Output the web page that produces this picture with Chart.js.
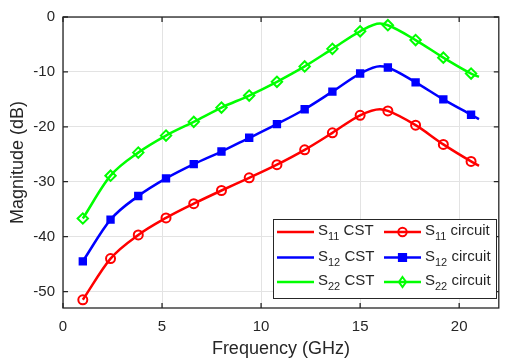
<!DOCTYPE html>
<html><head><meta charset="utf-8">
<script src="https://cdn.jsdelivr.net/npm/chart.js@4/dist/chart.umd.min.js"></script>
<style>html,body{margin:0;padding:0;background:#fff}#wrap{width:506px;height:364px}</style>
</head><body><div id="wrap"><canvas id="c" width="506" height="364"></canvas></div>
<script>
const freq = [1, 2.4, 3.8, 5.2, 6.6, 8.0, 9.4, 10.8, 12.2, 13.6, 15.0, 16.4, 17.8, 19.2, 20.6];
const s11Circuit = [-51.5, -44.0, -39.7, -36.6, -34.0, -31.6, -29.3, -26.9, -24.2, -21.1, -17.9, -17.1, -19.7, -23.2, -26.3];
const s12Circuit = [-44.5, -36.9, -32.6, -29.4, -26.8, -24.5, -22.0, -19.5, -16.8, -13.6, -10.3, -9.2, -11.9, -15.0, -17.8];
const s22Circuit = [-36.7, -28.9, -24.7, -21.6, -19.1, -16.5, -14.3, -11.8, -9.0, -5.8, -2.6, -1.5, -4.2, -7.4, -10.3];

const freqCst = [1, 2.4, 3.8, 5.2, 6.6, 8.0, 9.4, 10.8, 12.2, 13.6, 15.0, 16.0, 16.4, 17.8, 19.2, 20.6, 21.0];
const s11Cst = [-51.5, -44.0, -39.7, -36.6, -34.0, -31.6, -29.3, -26.9, -24.2, -21.1, -17.9, -16.8, -17.1, -19.7, -23.2, -26.3, -27.1];
const s12Cst = [-44.5, -36.9, -32.6, -29.4, -26.8, -24.5, -22.0, -19.5, -16.8, -13.6, -10.3, -8.95, -9.2, -11.9, -15.0, -17.8, -18.6];
const s22Cst = [-36.7, -28.9, -24.7, -21.6, -19.1, -16.5, -14.3, -11.8, -9.0, -5.8, -2.6, -1.2, -1.5, -4.2, -7.4, -10.3, -10.9];

const xTicks = [0, 5, 10, 15, 20];
const yTicks = [0, -10, -20, -30, -40, -50];

const RED = '#ff0000', BLUE = '#0000ff', GREEN = '#00ff00';
const FONT = "'Liberation Sans', Arial, sans-serif";

function pts(xs, ys) { return xs.map((x, i) => ({x: x, y: ys[i]})); }

function cst(label, ys, color) {
  return {label: label, data: pts(freqCst, ys), borderColor: color, backgroundColor: color,
    borderWidth: 2.5, pointRadius: 0, cubicInterpolationMode: 'monotone', showLine: true, order: 2};
}
function circ(label, ys, color, style, fill) {
  return {label: label, data: pts(freq, ys), borderColor: color, backgroundColor: fill,
    borderWidth: 2, pointRadius: style === 'rectRot' ? 5.2 : 4.5, pointStyle: style, pointBorderWidth: 2,
    showLine: false, order: 1};
}

const datasets = [
  cst('S11 CST', s11Cst, RED),
  cst('S12 CST', s12Cst, BLUE),
  cst('S22 CST', s22Cst, GREEN),
  circ('S11 circuit', s11Circuit, RED, 'circle', 'rgba(0,0,0,0)'),
  circ('S12 circuit', s12Circuit, BLUE, 'rect', BLUE),
  circ('S22 circuit', s22Circuit, GREEN, 'rectRot', 'rgba(0,0,0,0)')
];

function drawMarker(ctx, style, x, y, color, fill) {
  ctx.save();
  ctx.strokeStyle = color; ctx.fillStyle = fill; ctx.lineWidth = 2;
  ctx.beginPath();
  if (style === 'circle') { ctx.arc(x, y, 4.2, 0, Math.PI * 2); }
  else if (style === 'rect') { ctx.rect(x - 3.6, y - 3.6, 7.2, 7.2); }
  else { ctx.moveTo(x, y - 5); ctx.lineTo(x + 3.6, y); ctx.lineTo(x, y + 5); ctx.lineTo(x - 3.6, y); ctx.closePath(); }
  ctx.fill(); ctx.stroke();
  ctx.restore();
}

const framePlugin = {
  id: 'frame',
  afterDraw(chart) {
    const {ctx, chartArea: a, scales: {x, y}} = chart;
    ctx.save();
    ctx.strokeStyle = '#262626'; ctx.lineWidth = 1.3;
    ctx.strokeRect(a.left, a.top, a.right - a.left, a.bottom - a.top);
    ctx.beginPath();
    xTicks.forEach(v => { const px = x.getPixelForValue(v);
      ctx.moveTo(px, a.bottom); ctx.lineTo(px, a.bottom - 5);
      ctx.moveTo(px, a.top); ctx.lineTo(px, a.top + 5); });
    yTicks.forEach(v => { const py = y.getPixelForValue(v);
      ctx.moveTo(a.left, py); ctx.lineTo(a.left + 5, py);
      ctx.moveTo(a.right, py); ctx.lineTo(a.right - 5, py); });
    ctx.stroke();

    // legend
    const bx = 273, by = 219, bw = 223, bh = 79;
    ctx.fillStyle = '#fff'; ctx.fillRect(bx, by, bw, bh);
    ctx.strokeStyle = '#262626'; ctx.lineWidth = 1; ctx.strokeRect(bx + 0.5, by + 0.5, bw, bh);
    const rows = [
      ['11', RED, 'circle', 'rgba(0,0,0,0)'],
      ['12', BLUE, 'rect', BLUE],
      ['22', GREEN, 'rectRot', 'rgba(0,0,0,0)']
    ];
    const rowY = [232, 257.5, 282];
    rows.forEach((r, i) => {
      const yy = rowY[i];
      ctx.lineWidth = 2.5; ctx.strokeStyle = r[1];
      ctx.beginPath(); ctx.moveTo(277, yy); ctx.lineTo(314, yy); ctx.stroke();
      ctx.beginPath(); ctx.moveTo(384, yy); ctx.lineTo(421, yy); ctx.stroke();
      drawMarker(ctx, r[2], 402.5, yy, r[1], r[3]);
      ctx.fillStyle = '#262626'; ctx.textBaseline = 'middle'; ctx.textAlign = 'left';
      [[318, ' CST'], [425, ' circuit']].forEach(([tx, suffix]) => {
        ctx.font = '15px ' + FONT;
        ctx.fillText('S', tx, yy - 1);
        let w = ctx.measureText('S').width;
        ctx.font = '11px ' + FONT;
        ctx.fillText(r[0], tx + w, yy + 5);
        w += ctx.measureText(r[0]).width;
        ctx.font = '15px ' + FONT;
        ctx.fillText(suffix, tx + w, yy - 1);
      });
    });
    ctx.restore();
  }
};

new Chart(document.getElementById('c'), {
  type: 'line',
  data: {datasets: datasets},
  options: {
    responsive: false, animation: false, devicePixelRatio: 1,
    layout: {padding: {top: 7, right: 1, left: 0, bottom: 0}},
    plugins: {legend: {display: false}, tooltip: {enabled: false}},
    scales: {
      x: {type: 'linear', min: 0, max: 22,
        afterBuildTicks: s => { s.ticks = xTicks.map(v => ({value: v})); },
        afterFit: s => { s.height = 56; },
        grid: {color: '#e3e3e3', lineWidth: 1, drawTicks: false},
        border: {display: false},
        ticks: {color: '#262626', font: {family: FONT, size: 15}, padding: 10, maxRotation: 0},
        title: {display: true, text: 'Frequency (GHz)', color: '#262626', font: {family: FONT, size: 18}, padding: {top: 2, bottom: 4}}
      },
      y: {type: 'linear', min: -53, max: 0,
        afterBuildTicks: s => { s.ticks = yTicks.map(v => ({value: v})); },
        afterFit: s => { s.width = 63; },
        grid: {color: '#e3e3e3', lineWidth: 1, drawTicks: false},
        border: {display: false},
        ticks: {color: '#262626', font: {family: FONT, size: 15}, padding: 8},
        title: {display: true, text: 'Magnitude (dB)', color: '#262626', font: {family: FONT, size: 18}, padding: {top: 7, bottom: 2}}
      }
    }
  },
  plugins: [framePlugin]
});
</script></body></html>
